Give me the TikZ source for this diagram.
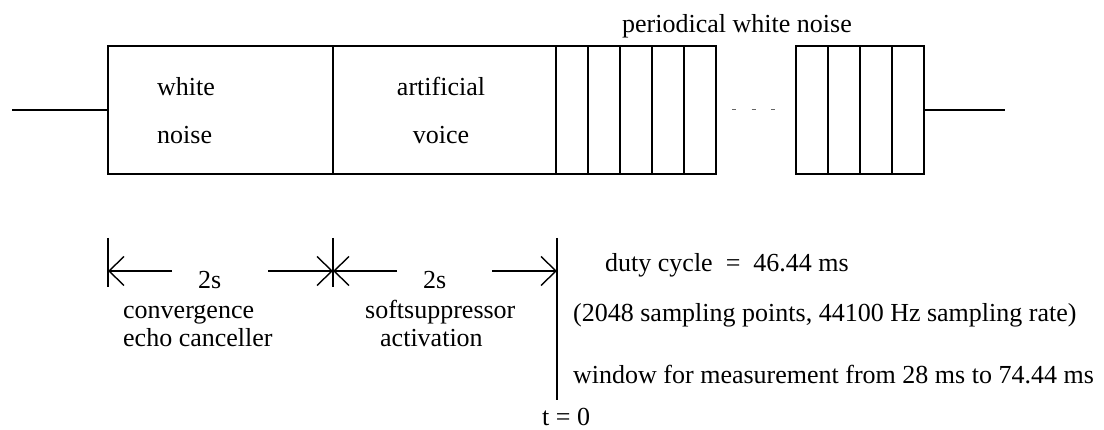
\documentclass[tikz,border=0pt]{standalone}
\usepackage{fontspec}
\setmainfont{Liberation Serif}
\usetikzlibrary{arrows.meta}
\tikzset{
  cell/.style={draw, line width=1.4pt, inner sep=0pt, minimum height=128pt},
  lead/.style={line width=1.4pt},
  tick/.style={line width=1.4pt},
  dimarrow/.style={line width=1.4pt, -{Straight Barb[length=15pt,width=29pt,line width=1.4pt]}},
  lbl/.style={inner sep=0pt, font=\fontsize{26}{30}\selectfont},
}
\begin{document}
\begin{tikzpicture}[x=1pt,y=-1pt]
\useasboundingbox (0,0) rectangle (1104,430);
% signal boxes
\node[cell, minimum width=225pt] (wn) at (220.5,110) {};
\node[cell, minimum width=223pt] (av) at (444.5,110) {};
\foreach \i/\x in {1/572,2/604,3/636,4/668,5/700}
  \node[cell, minimum width=32pt] (p\i) at (\x,110) {};
\foreach \i/\x in {1/812,2/844,3/876,4/908}
  \node[cell, minimum width=32pt] (q\i) at (\x,110) {};
\coordinate (lin) at (12,110);
\coordinate (rout) at (1005,110);
\draw[lead] (lin) -- (wn.west);
\draw[lead] (q4.east) -- (rout);
% continuation dashes
\coordinate (d0) at (732,110);
\coordinate (d1) at (776,110);
\draw[gray!80!black, line width=1pt, dash pattern=on 4pt off 15.5pt] (d0) -- (d1);
% texts in boxes
\node[lbl, anchor=base west] (t1) at (157,96) {white};
\node[lbl, anchor=base west] (t2) at (157,144) {noise};
\node[lbl, anchor=base] (t3) at (441,96) {artificial};
\node[lbl, anchor=base] (t4) at (441,144) {voice};
\node[lbl, anchor=base west] (t5) at (622,33) {periodical white noise};
% time marks
\coordinate (k0a) at (108,238); \coordinate (k0b) at (108,287);
\coordinate (k1a) at (333,238); \coordinate (k1b) at (333,287);
\coordinate (k2a) at (557,238); \coordinate (k2b) at (557,400);
\draw[tick] (k0a) -- (k0b);
\draw[tick] (k1a) -- (k1b);
\draw[tick] (k2a) -- (k2b);
\coordinate (m0) at (108,271);
\coordinate (m1) at (333,271);
\coordinate (m2) at (557,271);
\coordinate (a1) at (172,271);
\coordinate (a2) at (268,271);
\coordinate (a3) at (397,271);
\coordinate (a4) at (492,271);
\draw[dimarrow] (a1) -- (m0);
\draw[dimarrow] (a2) -- (m1);
\draw[dimarrow] (a3) -- (m1);
\draw[dimarrow] (a4) -- (m2);
\node[lbl, anchor=base west] (s1) at (198,289) {2s};
\node[lbl, anchor=base west] (s2) at (423,289) {2s};
\node[lbl, anchor=base west] (c1) at (123,319) {convergence};
\node[lbl, anchor=base west] (c2) at (123,347) {echo canceller};
\node[lbl, anchor=base west] (c3) at (365,319) {softsuppressor};
\node[lbl, anchor=base west] (c4) at (380,347) {activation};
\node[lbl, anchor=base west] (r1) at (605,272) {duty cycle \ = \ 46.44 ms};
\node[lbl, anchor=base west] (r2) at (573,322) {(2048 sampling points, 44100 Hz sampling rate)};
\node[lbl, anchor=base west] (r3) at (573,384) {window for measurement from 28 ms to 74.44 ms};
\node[lbl, anchor=base west] (tz) at (542,426) {t = 0};
\end{tikzpicture}
\end{document}
